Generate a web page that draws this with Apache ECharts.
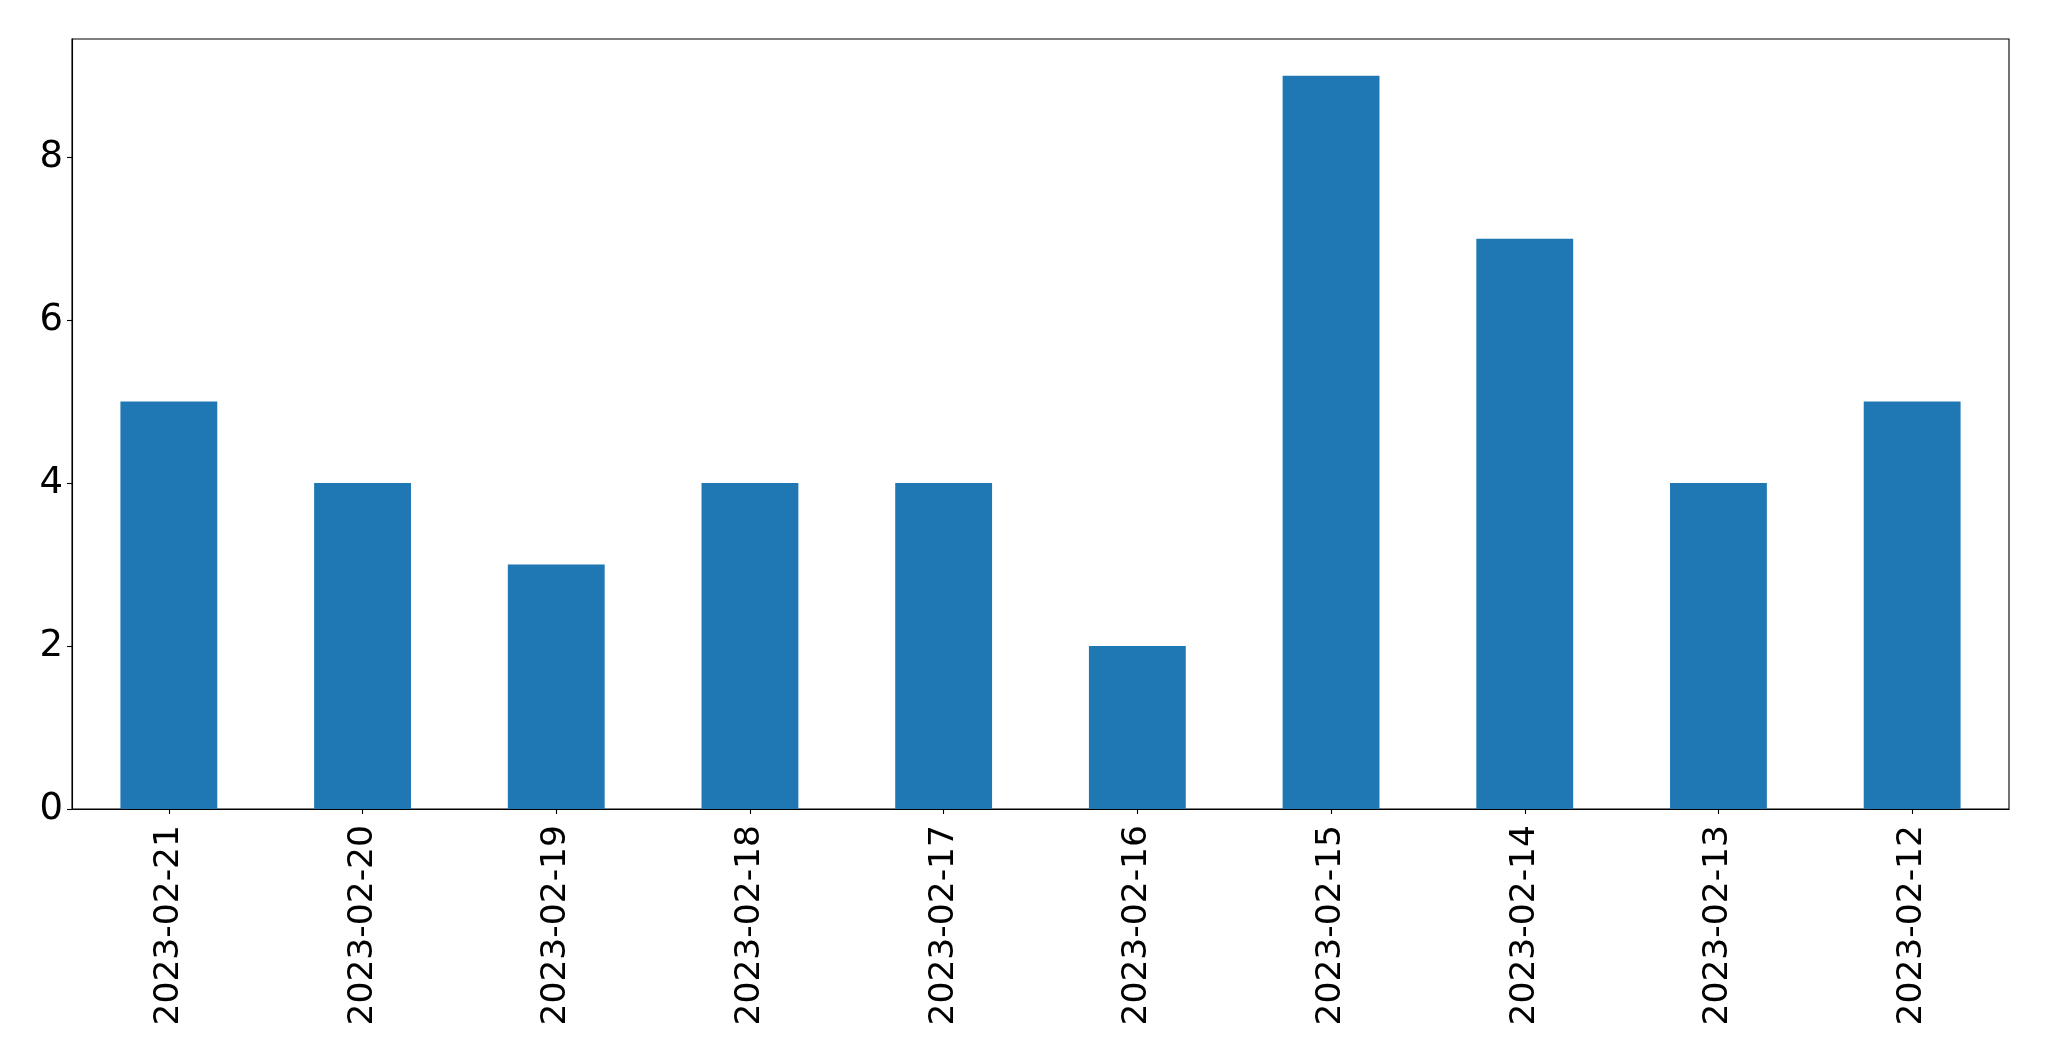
<!DOCTYPE html>
<html>
<head>
<meta charset="utf-8">
<script src="https://cdn.jsdelivr.net/npm/echarts@6/dist/echarts.min.js"></script>
<style>
html,body{margin:0;padding:0;background:#fff;}
#chart{width:2049px;height:1061px;}
</style>
</head>
<body>
<div id="chart"></div>
<script>
const categories = ["2023-02-21","2023-02-20","2023-02-19","2023-02-18","2023-02-17","2023-02-16","2023-02-15","2023-02-14","2023-02-13","2023-02-12"];
const values = [5,4,3,4,4,2,9,7,4,5];
const yTicks = [0,2,4,6,8];

const chart = echarts.init(document.getElementById('chart'), null, {renderer:'canvas'});
const font = 'DejaVu Sans';
chart.setOption({
  animation:false,
  backgroundColor:'#ffffff',
  grid:{left:72,top:39,right:40,bottom:252,show:true,borderColor:'#000',borderWidth:1.1,backgroundColor:'transparent'},
  xAxis:{
    type:'category',
    data:categories,
    boundaryGap:true,
    axisLine:{show:true,lineStyle:{color:'#000',width:1.1}},
    axisTick:{show:true,alignWithLabel:true,length:5,lineStyle:{color:'#000',width:1.1}},
    axisLabel:{rotate:90,margin:16,fontFamily:font,fontSize:34.5,color:'#000',interval:0},
    splitLine:{show:false}
  },
  yAxis:{
    type:'value',
    min:0,max:9.45,interval:2,
    axisLine:{show:true,lineStyle:{color:'#000',width:1.1}},
    axisTick:{show:true,length:5,lineStyle:{color:'#000',width:1.1}},
    axisLabel:{margin:9,fontFamily:font,fontSize:37,color:'#000',padding:[5,0,0,0],
      formatter:function(v){return yTicks.indexOf(v)>=0?String(v):'';},
      showMaxLabel:false},
    splitLine:{show:false}
  },
  series:[{
    type:'bar',
    data:values,
    barWidth:'50%',
    itemStyle:{color:'#1f77b4'}
  }]
});
</script>
</body>
</html>
